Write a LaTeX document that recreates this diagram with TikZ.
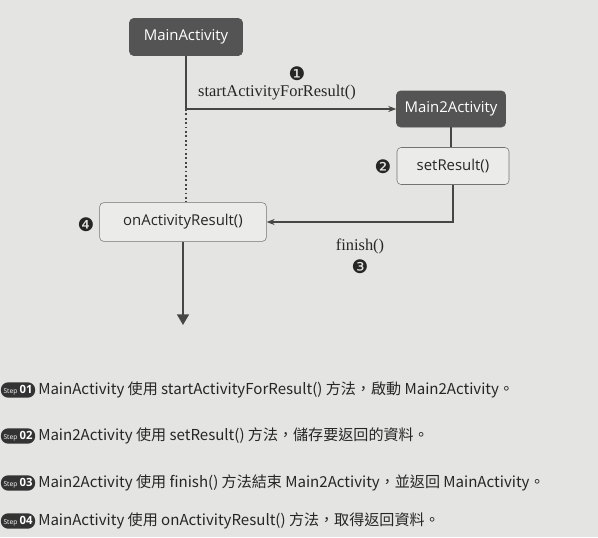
\documentclass[tikz,border=0pt]{standalone}
\usepackage{fontspec}
\setmainfont{Liberation Serif}
\newfontfamily\boxfont{Open Sans}
\newfontfamily\cjk{Noto Sans CJK TC}
\newfontfamily\dingfont{DejaVu Sans}
\usetikzlibrary{arrows.meta}
\definecolor{paper}{HTML}{E4E4E2}
\definecolor{boxdark}{HTML}{545454}
\definecolor{boxlight}{HTML}{EBEBEA}
\definecolor{flowgray}{HTML}{464646}
\tikzset{
  darkbox/.style={draw=boxdark, fill=boxdark, rounded corners=3pt, text=white,
    font=\boxfont\fontsize{11.2}{12}\selectfont, minimum height=27.75pt},
  lightbox/.style={draw=black!55, fill=boxlight, rounded corners=3pt, text=black!85,
    font=\boxfont\fontsize{11.2}{12}\selectfont, minimum height=27.75pt},
  flow/.style={draw=flowgray, line width=1.1pt},
  num/.style={font=\dingfont\fontsize{14}{14}\selectfont, text=black!85, inner sep=0pt},
  callname/.style={font=\fontsize{12.3}{13}\selectfont, text=black!85, inner sep=0pt},
  steptag/.style={fill=black!80, rounded corners=5.5pt, text=white, inner xsep=2pt,
    inner ysep=1.5pt, minimum width=25pt, minimum height=11.5pt},
  steptext/.style={anchor=west, inner xsep=0pt, text=black!85,
    font=\cjk\fontsize{11.3}{13}\selectfont}
}
\newcommand{\steplabel}[1]{{\boxfont\fontsize{5}{5}\selectfont Step}\,{\boxfont\bfseries\fontsize{8.5}{9}\selectfont #1}}

\begin{document}
\begin{tikzpicture}[x=0.75pt,y=-0.75pt]
\fill[paper] (0,0) rectangle (598,537);
\useasboundingbox (0,0) rectangle (598,537);

% boxes
\node[darkbox, minimum width=84.75pt] (main) at (186,37) {MainActivity};
\node[darkbox, minimum width=81.75pt, minimum height=27pt] (main2) at (451,109) {Main2Activity};
\node[lightbox, minimum width=84pt] (setres) at (453,166) {setResult()};
\node[lightbox, minimum width=125pt, minimum height=29pt] (onres) at (183,222) {onActivityResult()};

% connectors
\coordinate (split) at (main.south |- main2.west);
\coordinate (turn) at (setres.south |- onres.east);
\coordinate (end) at (183,325);
\draw[flow] (main.south) -- (split);
\draw[flow, -{Stealth[length=6pt,width=4.5pt]}] (split) -- (main2.west);
\draw[flow, line width=1.3pt, dotted] (split) -- (split |- onres.north);
\draw[flow] (main2.south) -- (main2.south |- setres.north);
\draw[flow, -{Stealth[length=6pt,width=4.5pt]}] (setres.south) -- (turn) -- (onres.east);
\draw[flow, -{Triangle[length=8pt,width=9pt]}] (onres.south) -- (end);

% labels
\node[callname] (startlbl) at (277,93) {startActivityForResult()};
\node[num] (n1) at (297,74) {❶};
\node[num] (n2) at (383,167) {❷};
\node[callname] (finishlbl) at (360,246) {finish()};
\node[num] (n3) at (360,267) {❸};
\node[num] (n4) at (86,225) {❹};

% steps
\node[steptag] (tag1) at (18,390) {\steplabel{01}};
\node[steptext] (step1) at (38,390) {MainActivity 使用 startActivityForResult() 方法，啟動 Main2Activity。};
\node[steptag] (tag2) at (18,436) {\steplabel{02}};
\node[steptext] (step2) at (38,436) {Main2Activity 使用 setResult() 方法，儲存要返回的資料。};
\node[steptag] (tag3) at (18,483) {\steplabel{03}};
\node[steptext] (step3) at (38,483) {Main2Activity 使用 finish() 方法結束 Main2Activity，並返回 MainActivity。};
\node[steptag] (tag4) at (18,521) {\steplabel{04}};
\node[steptext] (step4) at (38,521) {MainActivity 使用 onActivityResult() 方法，取得返回資料。};

\end{tikzpicture}
\end{document}
